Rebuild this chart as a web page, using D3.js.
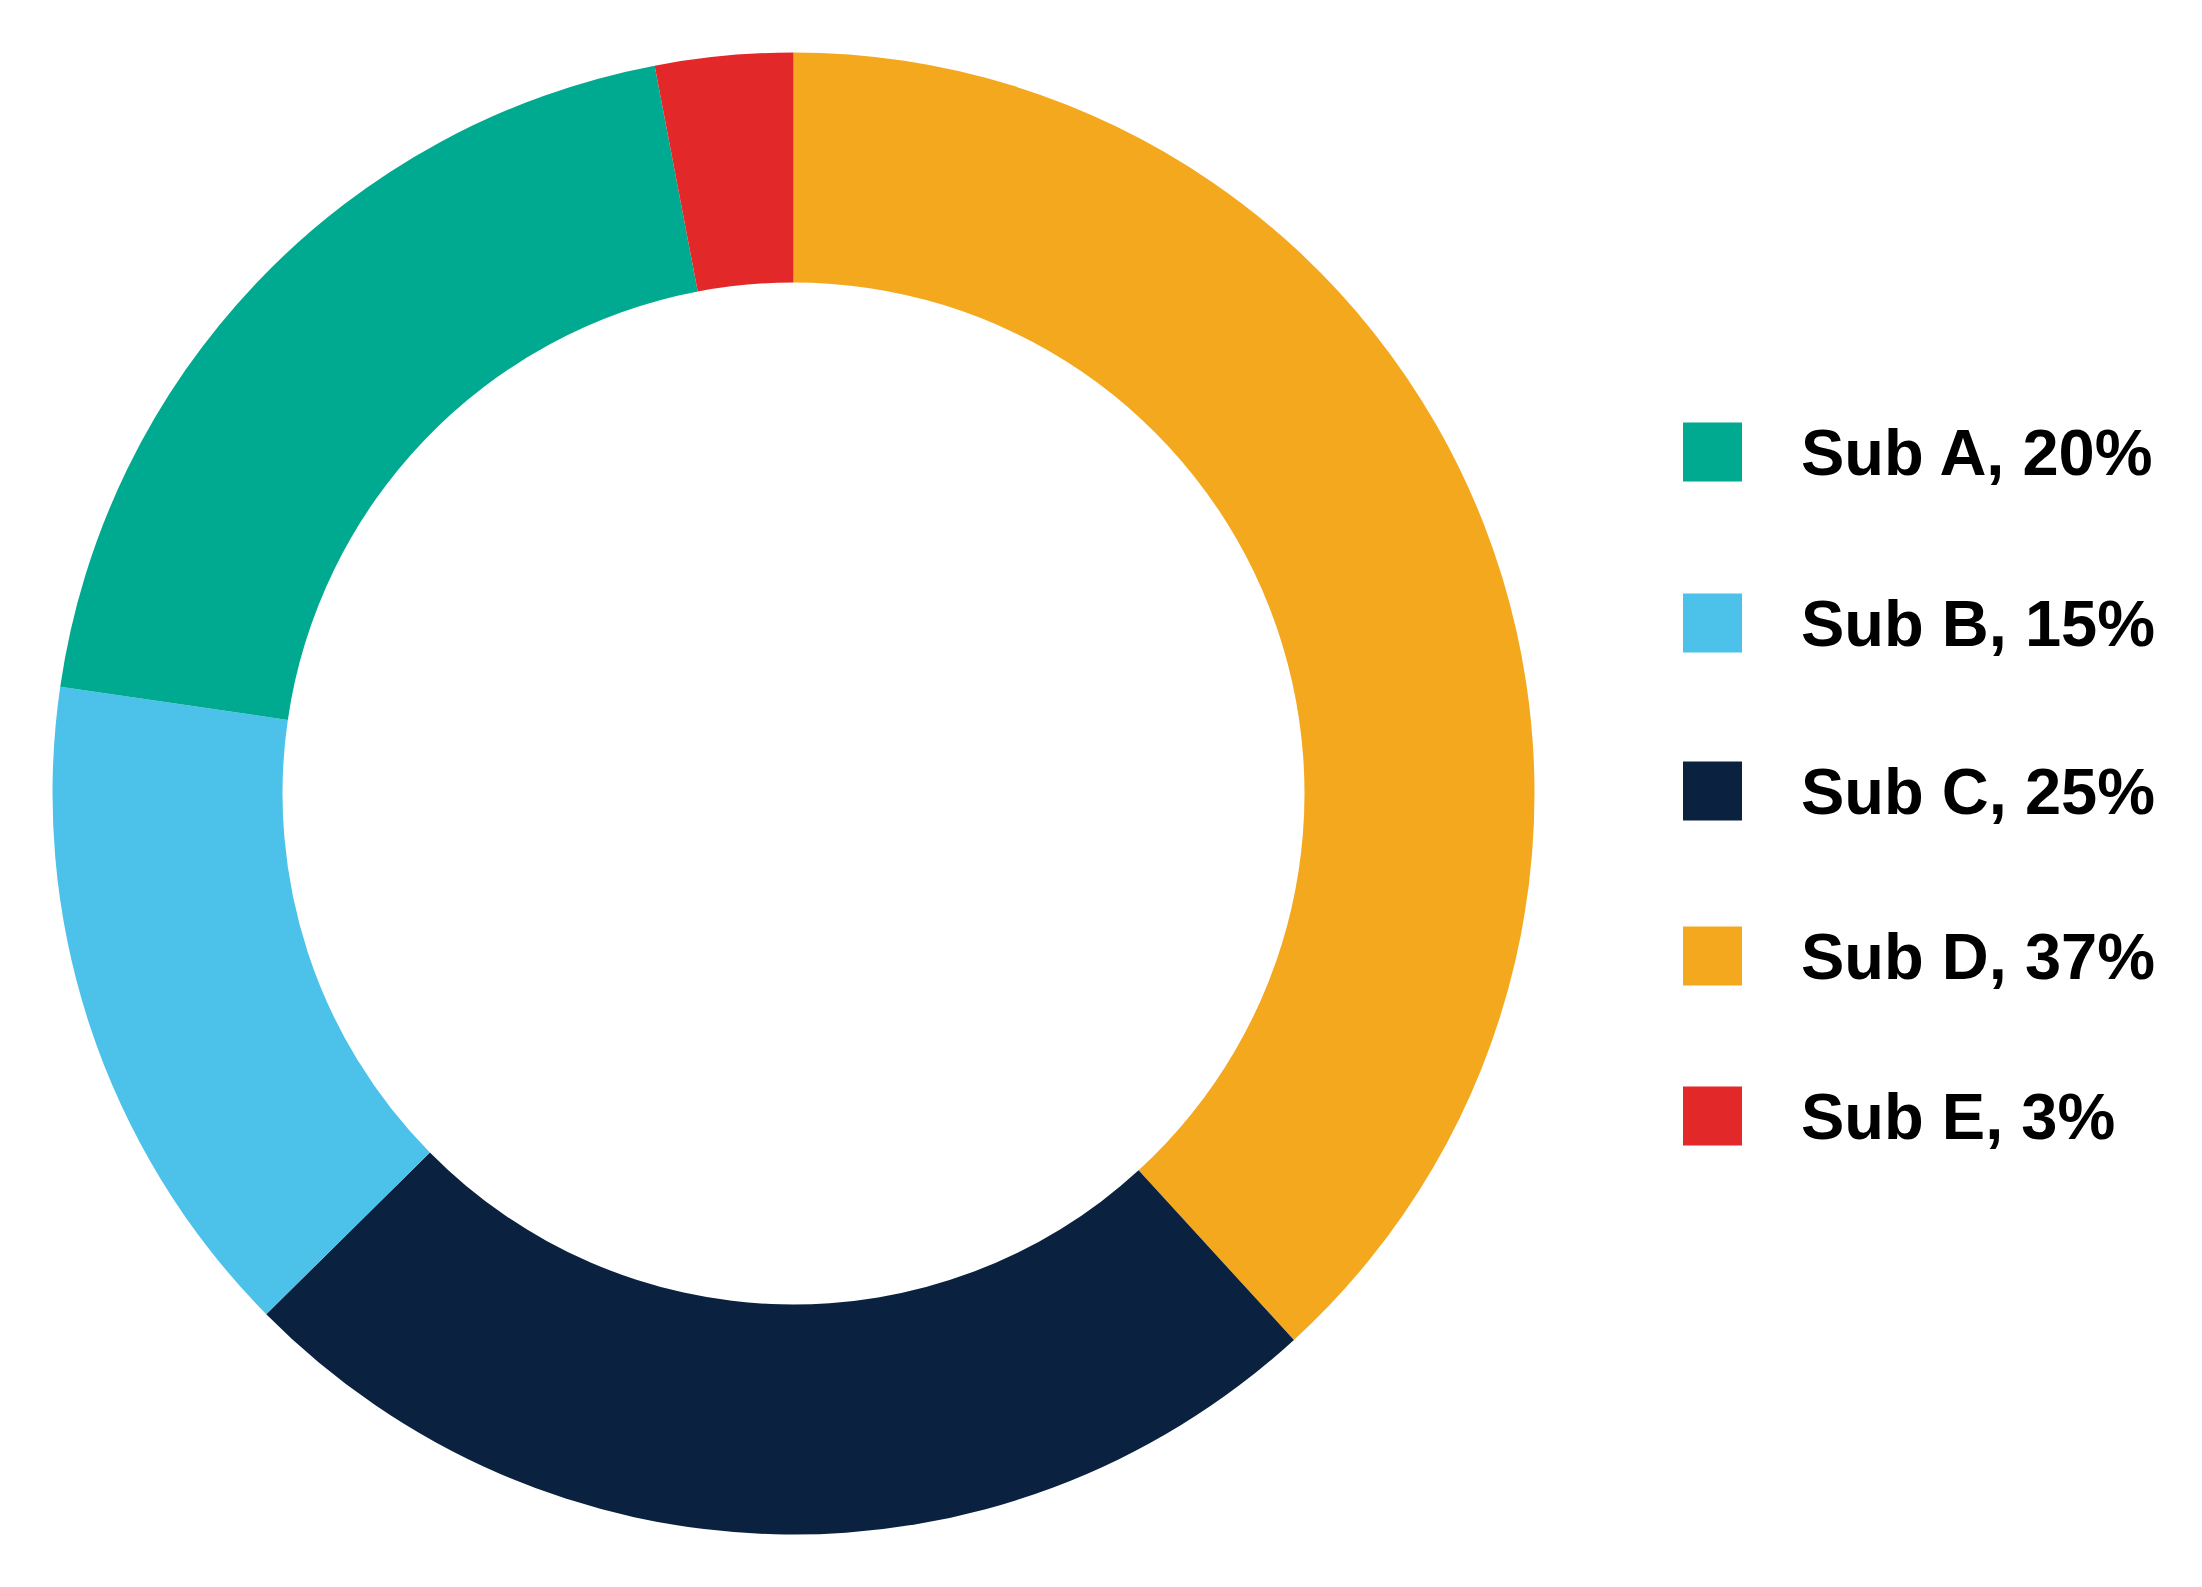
<!DOCTYPE html>
<html>
<head>
<meta charset="utf-8">
<script src="https://cdn.jsdelivr.net/npm/d3@7"></script>
<style>
    html, body { margin: 0; padding: 0; background: #fff; }
    svg { display: block; }
</style>
</head>
<body>
<svg id="chart"></svg>
<script>
const width = 2202;
const height = 1587;

// legend order
const names = ["Sub A", "Sub B", "Sub C", "Sub D", "Sub E"];
const labels = ["20%", "15%", "25%", "37%", "3%"];
const colors = ["#00AA90", "#4CC2EB", "#0A2140", "#F4A81E", "#E3282A"];
// arc shares as drawn in the picture
const shares = [19.7, 14.7, 24.4, 38.2, 3.0];
// clockwise order from 12 o'clock
const ringOrder = ["Sub D", "Sub C", "Sub B", "Sub A", "Sub E"];

const cx = 793.5, cy = 793.5;
const outerR = 741, innerR = 511;
// legend row centres (the rows are not evenly spaced in the original)
const legendY = [452, 623, 791, 956, 1116];

let svg = d3.select("#chart")
    .attr("width", width)
    .attr("height", height)
    .attr("viewBox", [0, 0, width, height]);

let color = d3.scaleOrdinal()
    .domain(names)
    .range(colors);

let slices = ringOrder.map(n => ({name: n, value: shares[names.indexOf(n)]}));

let pie = d3.pie()
    .sort(null)
    .value(d => d.value);

let arc = d3.arc()
    .innerRadius(innerR)
    .outerRadius(outerR);

svg.append("g")
    .attr("transform", "translate(" + cx + "," + cy + ")")
    .selectAll("path")
    .data(pie(slices))
    .join("path")
    .attr("fill", d => color(d.data.name))
    .attr("d", arc);

// legend
let y = d3.scaleOrdinal()
    .domain(names)
    .range(legendY);

let box = 59;
let legend = svg.append("g")
    .selectAll("g")
    .data(names)
    .join("g")
    .attr("transform", d => "translate(0," + y(d) + ")");

legend.append("rect")
    .attr("x", 1683)
    .attr("y", -box / 2)
    .attr("width", box)
    .attr("height", box)
    .attr("fill", d => color(d));

legend.append("text")
    .attr("x", 1801)
    .attr("y", 23)
    .style("font-family", "'Liberation Sans', Arial, Helvetica, sans-serif")
    .style("font-weight", "bold")
    .style("font-size", "65px")
    .attr("fill", "#000")
    .text((d, i) => d + ", " + labels[i]);
</script>
</body>
</html>
